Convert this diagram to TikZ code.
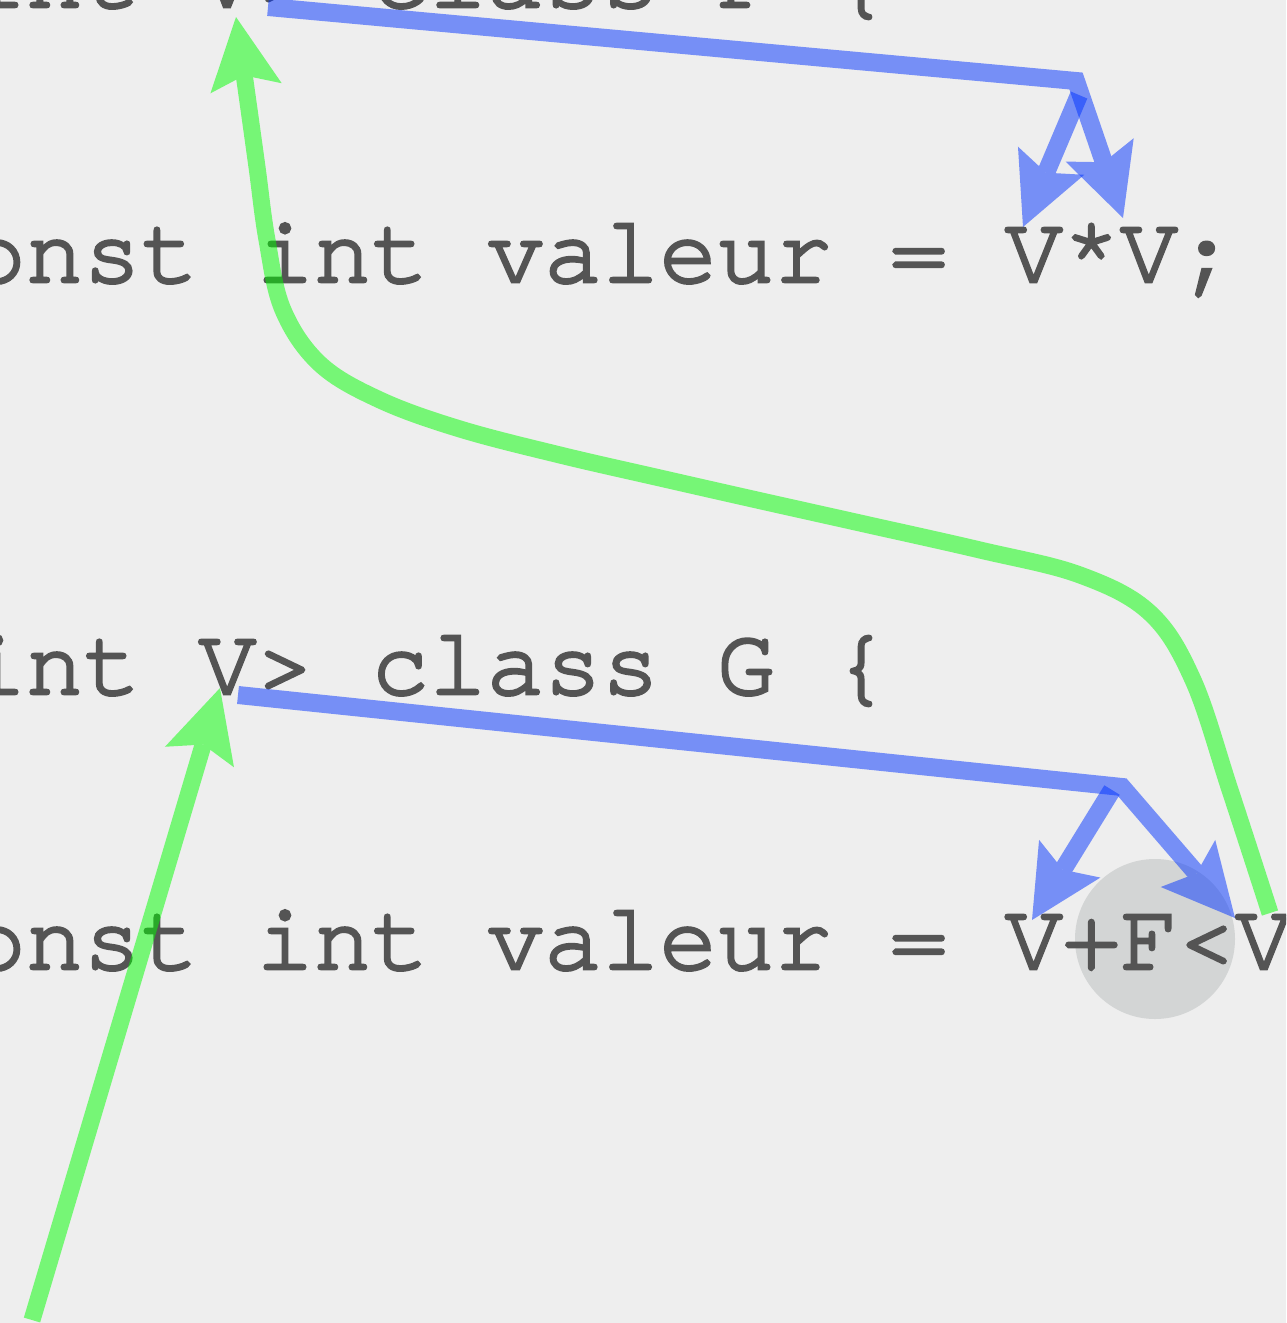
\documentclass[tikz,border=0pt]{standalone}
\usepackage{fontspec}
\newfontfamily\codefont[FakeBold=3]{TeX Gyre Cursor}
\usetikzlibrary{arrows.meta}
\definecolor{bg}{RGB}{238,238,238}
\definecolor{codegray}{RGB}{84,84,84}
\definecolor{blueA}{RGB}{0,50,255}
\definecolor{greenA}{RGB}{0,255,0}
\definecolor{spot}{RGB}{211,213,213}
\begin{document}
\begin{tikzpicture}[x=0.5pt,y=-0.5pt,
  code/.style={anchor=base west, inner sep=0pt, outer sep=0pt, text=codegray,
    font=\codefont\fontsize{48}{48}\selectfont},
  fade/.style={transparency group, opacity=0.5},
  bluelink/.style={draw=blueA, line width=9pt, line join=miter,
    -{Stealth[length=36pt,width=36pt,inset=6.5pt,line width=0pt]}},
  greenlink/.style={draw=greenA, line width=8.5pt, line join=round,
    -{Stealth[length=36pt,width=36pt,inset=6.5pt,line width=0pt]}}]
\fill[bg] (0,0) rectangle (1286,1323);
\useasboundingbox (0,0) rectangle (1286,1323);
\clip (0,0) rectangle (1286,1323);
% highlight spot
\fill[spot] (1155,939) circle[radius=80];
% code lines
\node[code] (lineF) at (-31.8,7) {int V> class F \{};
\node[code] (valF) at (-89.4,282) {const int valeur = V*V;};
\node[code] (lineG) at (-31.8,694) {int V> class G \{};
\node[code] (valG) at (-89.4,969) {const int valeur = V+F<V};
% blue connector points
\coordinate (bF) at (268,7);
\coordinate (cF) at (1076,81);
\coordinate (tF1) at (1123,218);
\coordinate (sF2) at (1079,95);
\coordinate (tF2) at (1023,227);
\coordinate (bG) at (238,695);
\coordinate (cG) at (1122,787);
\coordinate (tG1) at (1235,918);
\coordinate (sG2) at (1112,790);
\coordinate (tG2) at (1032,920);
% green connector points
\coordinate (gA) at (32,1320);
\coordinate (gB) at (220,688);
\coordinate (h0) at (1270,913);
\coordinate (h1) at (1230,790);
\coordinate (h2) at (1193,680);
\coordinate (h3) at (1150,613);
\coordinate (h4) at (1080,575);
\coordinate (h5) at (980,550);
\coordinate (h6) at (860,523);
\coordinate (h7) at (757,500);
\coordinate (h8) at (660,478);
\coordinate (h9) at (560,455);
\coordinate (h10) at (460,429);
\coordinate (h11) at (380,400);
\coordinate (h12) at (320,364);
\coordinate (h13) at (283,310);
\coordinate (h14) at (267,240);
\coordinate (h15) at (257,167);
\coordinate (h16) at (247,95);
\coordinate (h17) at (236,17);
% blue connectors
\begin{scope}[fade]\draw[bluelink] (bF) -- (cF) -- (tF1);\end{scope}
\begin{scope}[fade]\draw[bluelink] (sF2) -- (tF2);\end{scope}
\begin{scope}[fade]\draw[bluelink] (bG) -- (cG) -- (tG1);\end{scope}
\begin{scope}[fade]\draw[bluelink] (sG2) -- (tG2);\end{scope}
% green connectors
\begin{scope}[fade]\draw[greenlink] (gA) -- (gB);\end{scope}
\begin{scope}[fade]\draw[greenlink] plot[smooth, tension=0.6] coordinates {(h0) (h1) (h2) (h3) (h4) (h5) (h6) (h7) (h8) (h9) (h10) (h11) (h12) (h13) (h14) (h15) (h16) (h17)};\end{scope}
\end{tikzpicture}
\end{document}
